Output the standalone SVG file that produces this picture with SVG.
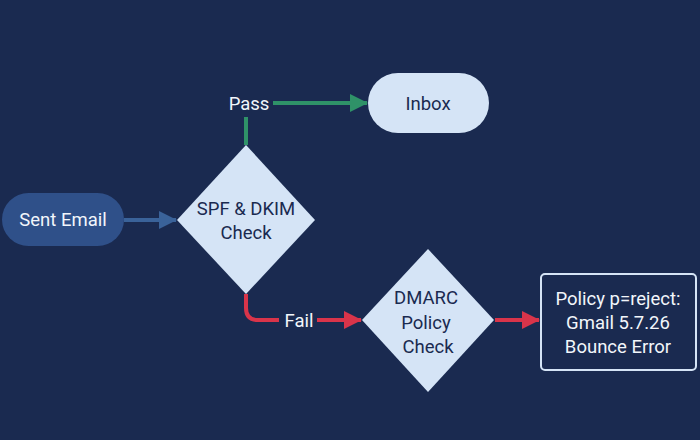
<svg xmlns="http://www.w3.org/2000/svg" width="700" height="440" viewBox="0 0 700 440">
<defs><style>
text{font-family:Roboto,"Noto Sans",sans-serif;font-size:18.500px;text-anchor:middle}
.d{fill:#d5e4f6}.dt{fill:#1a2a50}.w{fill:#f2f6fb}
.c{fill:none;stroke-width:4}
</style>
<marker id="b" markerUnits="userSpaceOnUse" markerWidth="18" markerHeight="18" refX="17" refY="9" orient="auto"><path d="M0 0L18 9L0 18z" fill="#3a6299"/></marker>
<marker id="g" markerUnits="userSpaceOnUse" markerWidth="18" markerHeight="18" refX="17" refY="9" orient="auto"><path d="M0 0L18 9L0 18z" fill="#2f9268"/></marker>
<marker id="r" markerUnits="userSpaceOnUse" markerWidth="18" markerHeight="18" refX="17" refY="9" orient="auto"><path d="M0 0L18 9L0 18z" fill="#d9344a"/></marker>
</defs>
<rect width="700" height="440" fill="#1a2a50"/>
<g id="connectors">
<path class="c" stroke="#3a6299" marker-end="url(#b)" d="M124 220H176"/>
<path class="c" stroke="#2f9268" d="M246 145V117"/>
<path class="c" stroke="#2f9268" marker-end="url(#g)" d="M273 103H367"/>
<path class="c" stroke="#d9344a" d="M246 294V308Q246 320 258 320H279"/>
<path class="c" stroke="#d9344a" marker-end="url(#r)" d="M317 320H361"/>
<path class="c" stroke="#d9344a" marker-end="url(#r)" d="M495 320H539"/>
</g>
<text id="pass" class="w" x="249" y="110">Pass</text>
<text id="fail" class="w" x="299" y="327">Fail</text>
<g id="sent"><rect x="2" y="193" width="122" height="53" rx="26.500" fill="#2f5089"/><text class="w" x="63" y="226">Sent Email</text></g>
<g id="inbox"><rect x="368" y="73" width="121" height="60" rx="30" class="d"/><text class="dt" x="428" y="110">Inbox</text></g>
<g id="spf"><path class="d" d="M246 145L315 220L246 294L177 220z"/><text class="dt" x="246" y="215">SPF &amp; DKIM</text><text class="dt" x="246" y="239">Check</text></g>
<g id="dmarc"><path class="d" d="M428 249L494 320L428 392L362 320z"/><text class="dt" x="426" y="304">DMARC</text><text class="dt" x="426" y="329">Policy</text><text class="dt" x="428" y="353">Check</text></g>
<g id="bounce"><rect x="541" y="274" width="155" height="96" rx="4" fill="#1a2a50" stroke="#d5e4f6" stroke-width="2"/><text class="w" x="618" y="305">Policy p=reject:</text><text class="w" x="618" y="329">Gmail 5.7.26</text><text class="w" x="618" y="353">Bounce Error</text></g>
</svg>
